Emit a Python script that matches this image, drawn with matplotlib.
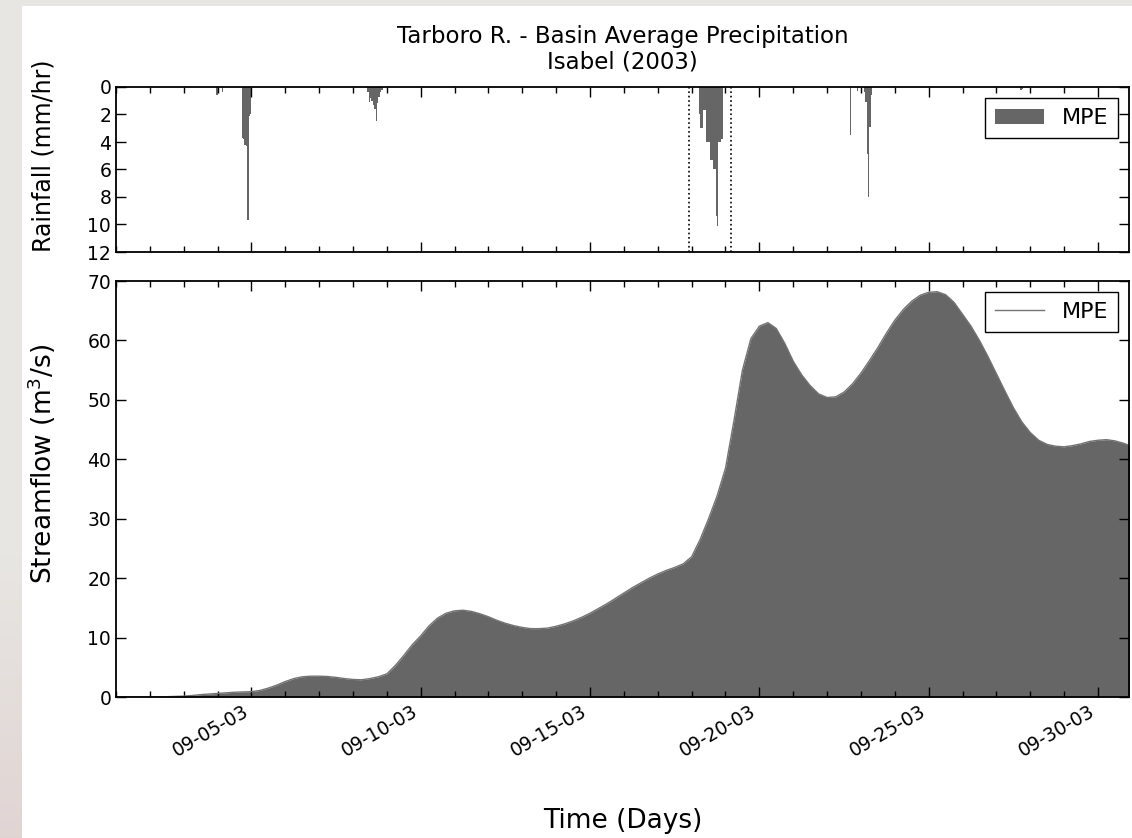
import matplotlib
matplotlib.use('Agg')
import matplotlib.pyplot as plt
import matplotlib.dates as mdates
import numpy as np
import pandas as pd
from matplotlib.patches import Rectangle

# hourly basin-average rainfall (mm/hr), MPE
rain_time = ['2003-09-03 23:00', '2003-09-04 03:00',
             '2003-09-04 17:00', '2003-09-04 18:00', '2003-09-04 19:00', '2003-09-04 20:00',
             '2003-09-04 21:00', '2003-09-04 22:00', '2003-09-04 23:00',
             '2003-09-08 10:00', '2003-09-08 11:00', '2003-09-08 12:00', '2003-09-08 13:00',
             '2003-09-08 14:00', '2003-09-08 15:00', '2003-09-08 16:00', '2003-09-08 17:00',
             '2003-09-08 18:00', '2003-09-08 19:00', '2003-09-08 20:00',
             '2003-09-18 05:00', '2003-09-18 06:00', '2003-09-18 07:00', '2003-09-18 08:00',
             '2003-09-18 09:00', '2003-09-18 10:00', '2003-09-18 11:00', '2003-09-18 12:00',
             '2003-09-18 13:00', '2003-09-18 14:00', '2003-09-18 15:00', '2003-09-18 16:00',
             '2003-09-18 17:00', '2003-09-18 18:00', '2003-09-18 19:00', '2003-09-18 20:00',
             '2003-09-18 21:00',
             '2003-09-22 16:00', '2003-09-22 21:00',
             '2003-09-23 02:00', '2003-09-23 03:00', '2003-09-23 04:00', '2003-09-23 05:00',
             '2003-09-23 06:00', '2003-09-23 07:00',
             '2003-09-27 17:00', '2003-09-27 18:00']
rain_mm = [0.6, 0.35,
           3.7, 3.8, 4.2, 4.3, 9.7, 2.1, 2.0,
           0.4, 1.1, 0.8, 1.0, 1.3, 1.6, 2.5, 1.2, 0.7, 0.4, 0.2,
           2.0, 3.0, 3.0, 1.7, 1.7, 4.0, 4.0, 4.0, 5.3, 5.3, 6.0, 6.0,
           9.4, 10.1, 4.0, 4.0, 3.8,
           3.5, 0.3,
           0.4, 1.1, 4.9, 8.0, 2.9, 0.6,
           0.2, 0.15]

# simulated streamflow (m3/s), MPE forcing, every 6 h from flow_start
flow_start = '2003-09-01 00:00'
flow_cms = [0.0, 0.0, 0.0, 0.0,          # Sep 1
            0.0, 0.02, 0.05, 0.1,        # Sep 2
            0.15, 0.25, 0.4, 0.5,        # Sep 3
            0.6, 0.7, 0.8, 0.85,         # Sep 4
            0.9, 1.1, 1.5, 2.0,          # Sep 5
            2.6, 3.1, 3.4, 3.5,          # Sep 6
            3.5, 3.45, 3.3, 3.1,         # Sep 7
            2.95, 2.9, 3.1, 3.4,         # Sep 8
            3.9, 5.3, 7.0, 8.8,          # Sep 9
            10.3, 12.0, 13.3, 14.1,      # Sep 10
            14.5, 14.6, 14.4, 14.0,      # Sep 11
            13.5, 12.9, 12.4, 12.0,      # Sep 12
            11.7, 11.5, 11.5, 11.6,      # Sep 13
            11.9, 12.3, 12.8, 13.4,      # Sep 14
            14.1, 14.9, 15.7, 16.6,      # Sep 15
            17.5, 18.4, 19.2, 20.0,      # Sep 16
            20.7, 21.3, 21.8, 22.4,      # Sep 17
            23.6, 26.5, 30.0, 33.8,      # Sep 18
            38.5, 46.5, 55.0, 60.3,      # Sep 19
            62.4, 63.0, 62.0, 59.5,      # Sep 20
            56.5, 54.2, 52.4, 51.0,      # Sep 21
            50.4, 50.5, 51.3, 52.7,      # Sep 22
            54.5, 56.6, 58.8, 61.2,      # Sep 23
            63.4, 65.2, 66.6, 67.6,      # Sep 24
            68.1, 68.2, 67.7, 66.4,      # Sep 25
            64.4, 62.4, 60.0, 57.3,      # Sep 26
            54.4, 51.5, 48.7, 46.3,      # Sep 27
            44.5, 43.2, 42.5, 42.2,      # Sep 28
            42.1, 42.3, 42.6, 43.0,      # Sep 29
            43.2, 43.3, 43.1, 42.7,      # Sep 30
            42.2]                        # Oct 1

storm_window = ['2003-09-17 22:00', '2003-09-19 04:00']

rt = pd.to_datetime(rain_time)
ft = pd.date_range(flow_start, periods=len(flow_cms), freq='6h')
t0 = pd.Timestamp('2003-09-01 00:00')
t1 = pd.Timestamp('2003-09-30 22:00')

plt.rcParams['font.family'] = 'DejaVu Sans'

fig = plt.figure(figsize=(11.32, 8.38), dpi=100)
fig.patch.set_facecolor('#e8e6e3')

# left strip of the backdrop fades to a pinkish grey
bg = fig.add_axes([0, 0, 22 / 1132, 1], zorder=-20)
grad = np.linspace(0, 1, 256)[:, None]
c_top = np.array([0.91, 0.905, 0.89])
c_bot = np.array([0.88, 0.835, 0.83])
w = np.clip((grad - 0.65) / 0.35, 0, 1)
bg.imshow(c_top * (1 - w[..., None]) + c_bot * w[..., None], aspect='auto',
          extent=[0, 1, 0, 1])
bg.axis('off')
fig.add_artist(Rectangle((22 / 1132, 0), 1, 1 - 6 / 838, transform=fig.transFigure,
                         facecolor='white', edgecolor='none', zorder=-10))

ax1 = fig.add_axes([116 / 1132, 1 - 252 / 838, 1013 / 1132, 165 / 838])
ax2 = fig.add_axes([116 / 1132, 1 - 697 / 838, 1013 / 1132, 416 / 838])

# rainfall hyetograph, hanging from the top
ax1.bar(rt, rain_mm, width=1 / 24, align='edge', color='0.4', linewidth=0, label='MPE')
for s in storm_window:
    ax1.axvline(pd.Timestamp(s), color='k', linestyle=':', linewidth=1.2)
ax1.set_ylim(12, 0)
ax1.set_yticks(np.arange(0, 13, 2))
ax1.set_ylabel('Rainfall (mm/hr)', fontsize=17)
ax1.yaxis.set_label_coords(-0.060, 0.585)
ax1.set_title('Tarboro R. - Basin Average Precipitation\nIsabel (2003)', fontsize=16.5,
              linespacing=1.18, pad=13)
ax1.legend(loc='upper right', fontsize=16, fancybox=False, handlelength=2.2,
           borderpad=0.45, framealpha=1, edgecolor='k')
ax1.tick_params(labelbottom=False)

# streamflow hydrograph
ax2.fill_between(ft, 0, flow_cms, color='0.4', linewidth=0)
ax2.plot(ft, flow_cms, color='0.45', linewidth=1, label='MPE')
ax2.set_ylim(0, 70)
ax2.set_yticks(np.arange(0, 71, 10))
ax2.set_ylabel('Streamflow (m$^3$/s)', fontsize=19)
ax2.yaxis.set_label_coords(-0.057, 0.56)
ax2.set_xlabel('Time (Days)', fontsize=19, labelpad=34)
ax2.legend(loc='upper right', fontsize=16, fancybox=False, handlelength=2.2,
           borderpad=0.45, framealpha=1, edgecolor='k')

for ax in (ax1, ax2):
    ax.set_xlim(t0, t1)
    ax.xaxis.set_major_locator(mdates.DayLocator(bymonthday=[5, 10, 15, 20, 25, 30]))
    ax.xaxis.set_minor_locator(mdates.DayLocator())
    ax.xaxis.set_major_formatter(mdates.DateFormatter('%m-%d-%y'))
    ax.tick_params(which='both', direction='in', top=True, right=True, labelsize=13.5)
    ax.tick_params(which='major', length=7, width=1)
    ax.tick_params(which='minor', length=4, width=1)
    for sp in ax.spines.values():
        sp.set_linewidth(1.3)

for lab in ax2.get_xticklabels():
    lab.set_rotation(30)
    lab.set_ha('right')

fig.savefig('out.png', dpi=100, facecolor=fig.get_facecolor())
